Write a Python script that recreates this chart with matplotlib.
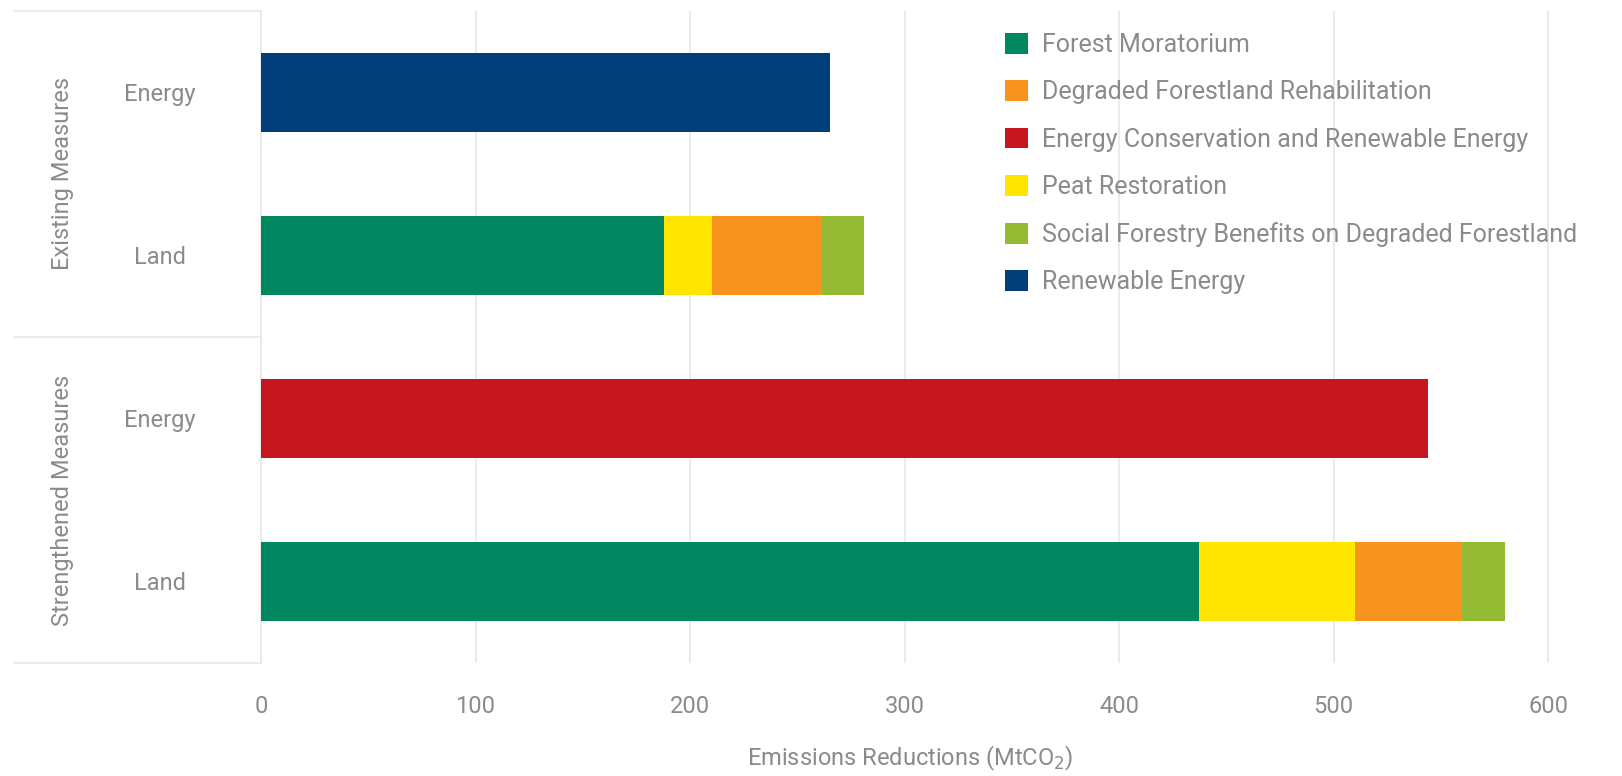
import matplotlib
matplotlib.use("Agg")
import matplotlib.pyplot as plt
import matplotlib.transforms as mtransforms
from matplotlib.patches import Patch

plt.rcParams['font.family'] = ['Roboto', 'DejaVu Sans']

# data (MtCO2)
groups = ['Existing Measures', 'Strengthened Measures']
categories = ['Energy', 'Land', 'Energy', 'Land']
forest_moratorium = [0, 188, 0, 437]
peat_restoration = [0, 22, 0, 73]
degraded_rehab = [0, 51, 0, 50]
social_forestry = [0, 20, 0, 20]
energy_conservation = [0, 0, 544, 0]
renewable_energy = [265, 0, 0, 0]

colors = {
    'Forest Moratorium': '#00875f',
    'Degraded Forestland Rehabilitation': '#f7941d',
    'Energy Conservation and Renewable Energy': '#c4161c',
    'Peat Restoration': '#ffe500',
    'Social Forestry Benefits on Degraded Forestland': '#95ba33',
    'Renewable Energy': '#003f7a',
}
text_gray = '#8a8c88'
line_gray = '#e8e8e8'

fig = plt.figure(figsize=(16.22, 7.76), dpi=100)
ax = fig.add_axes([261 / 1622, 1 - 663 / 776, (1559 - 261) / 1622, (663 - 11) / 776])

y = list(range(len(categories)))
h = 0.48

# stacked segments, in the order they sit on the land bars
stack = [
    ('Forest Moratorium', forest_moratorium),
    ('Peat Restoration', peat_restoration),
    ('Degraded Forestland Rehabilitation', degraded_rehab),
    ('Social Forestry Benefits on Degraded Forestland', social_forestry),
    ('Energy Conservation and Renewable Energy', energy_conservation),
    ('Renewable Energy', renewable_energy),
]
left = [0] * len(categories)
for name, vals in stack:
    ax.barh(y, vals, height=h, left=left, color=colors[name], zorder=3)
    left = [l + v for l, v in zip(left, vals)]

ax.set_ylim(3.5, -0.5)
ax.set_xlim(0, 605)
ax.set_xticks([0, 100, 200, 300, 400, 500, 600])
ax.grid(axis='x', color=line_gray, linewidth=1.2, zorder=0)
ax.set_yticks(y)
ax.set_yticklabels(categories)
for lab in ax.get_yticklabels():
    lab.set_horizontalalignment('center')
ax.tick_params(axis='y', length=0, pad=73, labelsize=17, labelcolor=text_gray)
ax.tick_params(axis='x', length=0, pad=23, labelsize=17, labelcolor=text_gray)

for s in ['top', 'right', 'bottom']:
    ax.spines[s].set_visible(False)
ax.spines['left'].set_color(line_gray)
ax.spines['left'].set_linewidth(1.2)

ax.set_xlabel('Emissions Reductions (MtCO$_2$)', fontsize=17, color=text_gray, labelpad=19)

# group separators and group labels on the left
trans = mtransforms.blended_transform_factory(ax.transAxes, ax.transData)
x0 = (14 - 261) / (1559 - 261)
for yy in [-0.5, 1.5, 3.5]:
    ax.plot([x0, 0], [yy, yy], transform=trans, color=line_gray, lw=1.2, clip_on=False)
group_x = (62 - 261) / (1559 - 261)
for i, g in enumerate(groups):
    ax.text(group_x, 2 * i + 0.5, g, transform=trans, rotation=90, ha='center', va='center',
            fontsize=17, color=text_gray)

legend_order = ['Forest Moratorium', 'Degraded Forestland Rehabilitation',
                'Energy Conservation and Renewable Energy', 'Peat Restoration',
                'Social Forestry Benefits on Degraded Forestland', 'Renewable Energy']
handles = [Patch(facecolor=colors[n], label=n) for n in legend_order]
leg = fig.legend(handles=handles, loc='upper left', bbox_to_anchor=(1005 / 1622, 1 - 33 / 776),
                 frameon=False, fontsize=18, handlelength=0.9, handleheight=0.9,
                 handletextpad=0.6, labelspacing=0.93, borderpad=0, borderaxespad=0)
for t in leg.get_texts():
    t.set_color(text_gray)

fig.savefig('out.png', dpi=100, facecolor='white')
